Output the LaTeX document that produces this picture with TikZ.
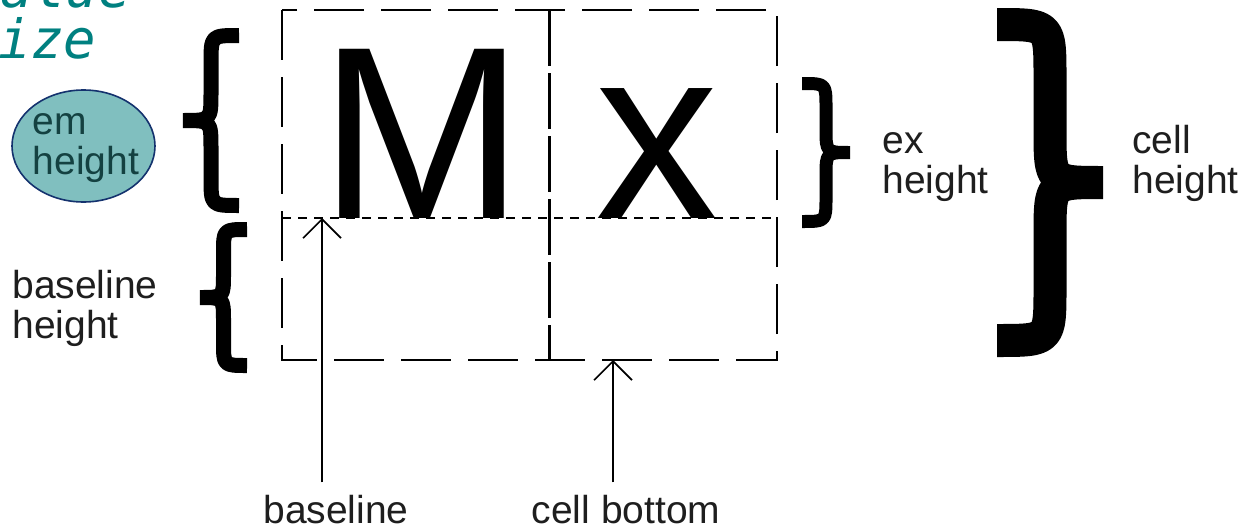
\documentclass[tikz,border=0pt]{standalone}
\usepackage{fontspec}
\setmainfont{Liberation Sans}
\newfontfamily\codefont{DejaVu Sans Mono}
\usetikzlibrary{arrows.meta,shapes.geometric,positioning}

\definecolor{tealtext}{RGB}{0,128,128}
\definecolor{ovalfill}{RGB}{128,191,191}
\definecolor{ovaledge}{RGB}{20,50,110}
\definecolor{ovaltext}{RGB}{20,65,65}
\definecolor{labelgray}{RGB}{30,30,30}

% curly brace: tip x, end x, top y, bottom y, thickness (px)
\newcommand{\curlybr}[5]{%
  \pgfmathsetmacro{\bxs}{(#1+#2)/2}%
  \pgfmathsetmacro{\bym}{(#3+#4)/2}%
  \pgfmathsetmacro{\byt}{#3+#5/2}%
  \pgfmathsetmacro{\byb}{#4-#5/2}%
  \pgfmathsetmacro{\brr}{abs(#2-#1)/2}%
  \draw[line width=#5*0.5pt, line join=bevel]
    (#2,\byt) .. controls (\bxs,\byt) .. (\bxs,\byt+\brr)
    -- (\bxs,\bym-\brr) .. controls (\bxs,\bym) .. (#1,\bym)
    .. controls (\bxs,\bym) .. (\bxs,\bym+\brr)
    -- (\bxs,\byb-\brr) .. controls (\bxs,\byb) .. (#2,\byb);
}

\begin{document}
\begin{tikzpicture}[x=0.5pt, y=-0.5pt,
    lbl/.style={inner sep=0pt, align=left, text=labelgray, font=\fontsize{19.5}{20}\selectfont},
    glyph/.style={inner sep=0pt, anchor=base, font=\fontsize{123}{123}\selectfont},
    cellbox/.style={line width=1pt, dash pattern=on 25pt off 8.5pt},
    midline/.style={line width=1.5pt, dash pattern=on 28pt off 3.5pt},
    baseln/.style={line width=1.1pt, dash pattern=on 4.5pt off 3.5pt},
    ptr/.style={line width=0.8pt, -{Straight Barb[length=9.5pt,width=19pt]}},
    oval/.style={ellipse, draw=ovaledge, fill=ovalfill, line width=0.8pt,
                 minimum width=71.5pt, minimum height=56pt, inner sep=0pt},
    codetext/.style={inner sep=0pt, anchor=base west, text=tealtext,
                     font=\codefont\itshape\fontsize{27}{28}\selectfont}]
    \fill[white] (0,0) rectangle (1246,530);
    \useasboundingbox (0,0) rectangle (1246,530);

    % cut-off text at the top left
    \node[codetext] (valuetxt) at (-32,8) {value};
    \node[codetext] (sizetxt) at (-34,58) {size};

    % the two cells
    \draw[cellbox] (282,10) rectangle (777,360);
    \draw[midline] (549,10) -- (549,360);
    \draw[baseln] (282,218) -- (777,218);

    % sample letters
    \node[glyph] (glyphM) at (422,218) {M};
    \node[glyph] (glyphx) at (657,218) {x};

    % braces
    \curlybr{183}{239}{28}{213}{15}
    \curlybr{200}{247}{222}{373}{15}
    \curlybr{850}{802}{77}{228}{13}
    \curlybr{1103}{997}{8}{357}{33}

    % labels
    \node[oval] (emoval) at (83.5,146) {};
    \node[lbl, text=ovaltext, anchor=center] (emlabel) at (86,148) {em\\height};
    \node[lbl, anchor=base west] (basehlabel) at (12,338) {baseline\\height};
    \node[lbl, anchor=base west] (exlabel) at (882,193) {ex\\height};
    \node[lbl, anchor=base west] (celllabel) at (1132,193) {cell\\height};

    % pointers to the baseline and the cell bottom
    \coordinate (basept) at (322,218);
    \coordinate (bottompt) at (613,360);
    \node[lbl, inner sep=6pt, anchor=base] (baselabel) at (336,523) {baseline};
    \node[lbl, inner sep=6pt, anchor=base] (bottomlabel) at (626,523) {cell bottom};
    \draw[ptr] (baselabel.north -| basept) -- (basept);
    \draw[ptr] (bottomlabel.north -| bottompt) -- (bottompt);
\end{tikzpicture}
\end{document}
